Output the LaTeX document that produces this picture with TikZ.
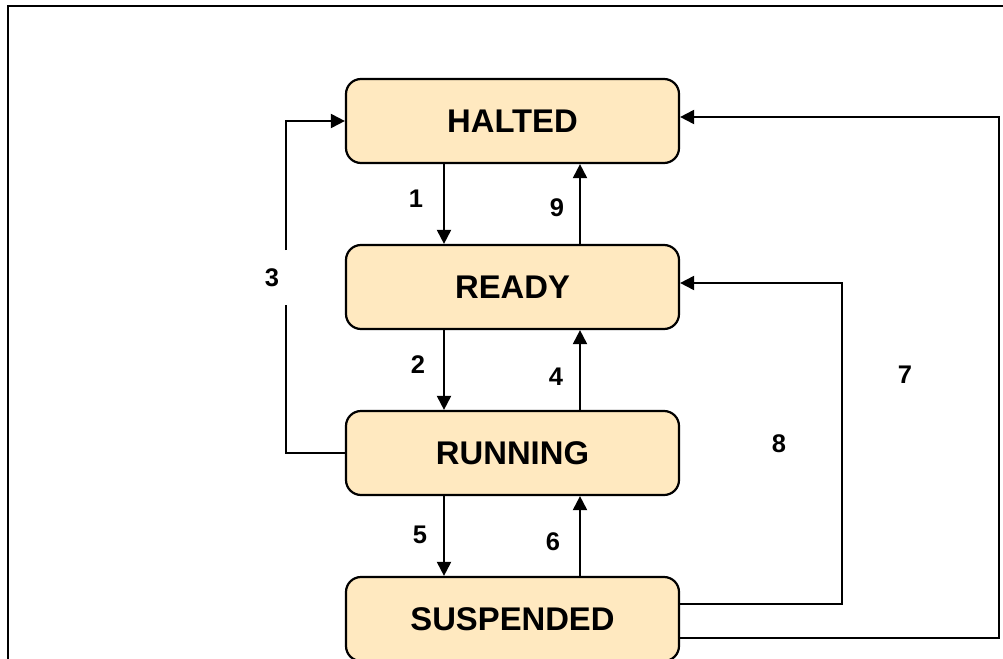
\documentclass[tikz,border=0pt]{standalone}
\usepackage{fontspec}
\setmainfont{Liberation Sans}
\usepackage{tikz}
\usetikzlibrary{arrows.meta}
\definecolor{statefill}{RGB}{255,233,192}

\tikzset{
  state/.style={draw=black, line width=2.2pt, fill=statefill, rounded corners=15pt,
    minimum width=333pt, minimum height=84pt, inner sep=0pt,
    font=\fontsize{32.8}{36}\selectfont\bfseries},
  arr/.style={line width=2pt, -{Triangle[length=14pt,width=14pt]}},
  lbl/.style={font=\fontsize{25.5}{28}\selectfont\bfseries, inner sep=0pt}
}

\begin{document}
\begin{tikzpicture}[x=1pt, y=-1pt]
        \useasboundingbox (0,0) rectangle (1003,658);
        \clip (0,0) rectangle (1003,658);
        \fill[white] (0,0) rectangle (1003,658);
        \draw[line width=2pt] (8,6) rectangle (1030,690);

        \node[state] (halted) at (512.5,121) {HALTED};
        \node[state] (ready) at (512.5,287) {READY};
        \node[state] (running) at (512.5,453) {RUNNING};
        \node[state] (suspended) at (512.5,619) {SUSPENDED};

        % down and up arrows between the states
        \draw[arr] ([xshift=-68.5pt]halted.south) -- ([xshift=-68.5pt]ready.north);
        \draw[arr] ([xshift=67.5pt]ready.north) -- ([xshift=67.5pt]halted.south);
        \draw[arr] ([xshift=-68.5pt]ready.south) -- ([xshift=-68.5pt]running.north);
        \draw[arr] ([xshift=67.5pt]running.north) -- ([xshift=67.5pt]ready.south);
        \draw[arr] ([xshift=-68.5pt]running.south) -- ([xshift=-68.5pt]suspended.north);
        \draw[arr] ([xshift=67.5pt]suspended.north) -- ([xshift=67.5pt]running.south);

        % loop back from running to halted
        \coordinate (gap3a) at (286,250);
        \coordinate (gap3b) at (286,305);
        \draw[line width=2pt] (running.west) -| (gap3b);
        \draw[arr] (gap3a) |- (halted.west);

        % loops back from suspended
        \coordinate (c8) at (842,283);
        \coordinate (c7) at (999,117);
        \draw[arr] ([yshift=15pt]suspended.east) -| (c8) -- ([yshift=4pt]ready.east);
        \draw[arr] ([yshift=-19pt]suspended.east) -| (c7) -- ([yshift=4pt]halted.east);

        \node[lbl] (l1) at (416,199) {1};
        \node[lbl] (l9) at (557,208) {9};
        \node[lbl] (l3) at (272,278) {3};
        \node[lbl] (l2) at (418,365) {2};
        \node[lbl] (l4) at (556,377) {4};
        \node[lbl] (l5) at (420,535) {5};
        \node[lbl] (l6) at (553,542) {6};
        \node[lbl] (l7) at (905,375) {7};
        \node[lbl] (l8) at (779,444) {8};
    \end{tikzpicture}
\end{document}
